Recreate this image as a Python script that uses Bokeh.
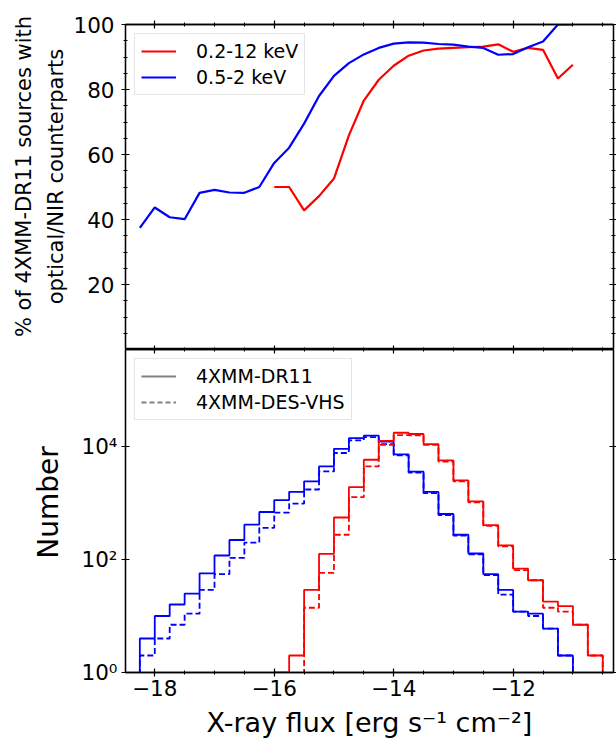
import math
from bokeh.plotting import figure
from bokeh.layouts import row, column
from bokeh.models import (Range1d, FixedTicker, LinearAxis, LogAxis, Label,
                          Legend, LegendItem)
from bokeh.embed import file_html
from bokeh.resources import INLINE

# ---------------- data ----------------
# top panel: fraction of sources with counterparts
frac_flux_blue = [-18.25, -18.0, -17.75, -17.5, -17.25, -17.0, -16.75, -16.5, -16.25,
                  -16.0, -15.75, -15.5, -15.25, -15.0, -14.75, -14.5, -14.25, -14.0,
                  -13.75, -13.5, -13.25, -13.0, -12.75, -12.5, -12.25, -12.0, -11.75,
                  -11.5, -11.25, -11.0]
frac_blue = [37.4, 43.7, 40.7, 40.1, 48.2, 49.1, 48.3, 48.2, 50.0,
             57.4, 62.1, 69.5, 78.0, 84.2, 88.1, 90.8, 92.8, 94.1,
             94.5, 94.4, 94.0, 93.8, 93.2, 92.8, 90.7, 90.9, 93.0,
             94.8, 100.0, 100.0]
frac_flux_red = [-16.0, -15.75, -15.5, -15.25, -15.0, -14.75, -14.5, -14.25, -14.0,
                 -13.75, -13.5, -13.25, -13.0, -12.75, -12.5, -12.25, -12.0, -11.75,
                 -11.5, -11.25, -11.0]
frac_red = [50.0, 50.0, 42.8, 47.2, 52.6, 65.9, 76.6, 83.0, 87.3,
            90.4, 92.0, 92.6, 92.8, 93.0, 93.2, 93.9, 91.6, 92.8,
            92.2, 83.4, 87.6]

# bottom panel: histograms (bin width 0.25 dex)
edges_blue = [-18.25, -18.0, -17.75, -17.5, -17.25, -17.0, -16.75, -16.5, -16.25,
              -16.0, -15.75, -15.5, -15.25, -15.0, -14.75, -14.5, -14.25, -14.0,
              -13.75, -13.5, -13.25, -13.0, -12.75, -12.5, -12.25, -12.0, -11.75,
              -11.5, -11.25, -11.0]
counts_blue_dr11 = [4, 10, 16, 25, 57, 118, 222, 415, 695,
                    1130, 1585, 2430, 4460, 9150, 14100, 15700, 12200,
                    7300, 3600, 1575, 640, 275, 128, 55, 29,
                    12, 11, 6, 2]
counts_blue_desvhs = [2, 4, 7, 11, 29, 55, 107, 200, 365,
                      680, 975, 1740, 3630, 7700, 12900, 14700, 11100,
                      7000, 3450, 1500, 615, 265, 124, 53, 24,
                      12, 10, 6, 2]
edges_red_dr11 = [-16.0, -15.75, -15.5, -15.25, -15.0, -14.75, -14.5, -14.25, -14.0,
                  -13.75, -13.5, -13.25, -13.0, -12.75, -12.5, -12.25, -12.0, -11.75,
                  -11.5, -11.25, -11.0, -10.75, -10.5]
counts_red_dr11 = [1, 2, 29, 126, 555, 1910, 5850, 12600, 17600,
                   16700, 11100, 5680, 2530, 1070, 408, 178, 69, 43,
                   18, 15, 7, 2]
edges_red_desvhs = [-15.5, -15.25, -15.0, -14.75, -14.5, -14.25, -14.0,
                    -13.75, -13.5, -13.25, -13.0, -12.75, -12.5, -12.25, -12.0, -11.75,
                    -11.5, -11.25, -11.0, -10.75, -10.5]
counts_red_desvhs = [14, 58, 275, 1270, 4460, 10700, 16000,
                     15800, 10700, 5400, 2430, 1030, 395, 172, 65, 43,
                     14, 12, 7, 2]

x_major = [-18, -16, -14, -12]
x_labels = {-18: "−18", -16: "−16", -14: "−14", -12: "−12"}
x_minor = [-17.5, -17, -16.5, -15.5, -15, -14.5, -13.5, -13, -12.5, -11.5, -11, -10.5]
pct_major = [20, 40, 60, 80, 100]
pct_minor = [5, 10, 15, 25, 30, 35, 45, 50, 55, 65, 70, 75, 85, 90, 95]
num_major = [1, 100, 10000]
num_labels = {1: "10⁰", 100: "10²", 10000: "10⁴"}

FONT = "DejaVu Sans"
TICK_FS = "21.5px"


def style_axis(ax, t_in, t_out, m_in, m_out, labels=False, standoff=6):
    ax.axis_line_color = "black"
    ax.axis_line_width = 1.3
    ax.major_tick_line_color = "black"
    ax.minor_tick_line_color = "black"
    ax.major_tick_line_width = 1.2
    ax.minor_tick_line_width = 1.0
    ax.major_tick_in = t_in
    ax.major_tick_out = t_out
    ax.minor_tick_in = m_in
    ax.minor_tick_out = m_out
    if labels:
        ax.major_label_text_font = FONT
        ax.major_label_text_font_size = TICK_FS
        ax.major_label_text_color = "black"
        ax.major_label_standoff = standoff
    else:
        ax.major_label_text_color = None
        ax.major_label_text_font_size = "0px"
        ax.major_label_standoff = 0


def step_xy(edges, counts, floor=0.3):
    xs = [edges[0]] + list(edges)
    ys = [floor] + list(counts) + [floor]
    return xs, ys


xr = Range1d(-18.49, -10.32)

# ---------------- top panel ----------------
top = figure(width=546, height=349, x_range=xr, y_range=Range1d(0, 100),
             x_axis_location=None, y_axis_location=None,
             min_border_left=53, min_border_right=3, min_border_top=24, min_border_bottom=0,
             toolbar_location=None, output_backend="svg")
top.outline_line_color = "black"
top.outline_line_width = 1.3
top.grid.visible = False

ax = LinearAxis(ticker=FixedTicker(ticks=pct_major, minor_ticks=pct_minor))
style_axis(ax, 4, 4, 2, 2, labels=True, standoff=7)
top.add_layout(ax, "left")
ax = LinearAxis(ticker=FixedTicker(ticks=pct_major, minor_ticks=pct_minor))
style_axis(ax, 4, 3, 2, 2)
top.add_layout(ax, "right")
ax = LinearAxis(ticker=FixedTicker(ticks=x_major, minor_ticks=x_minor))
style_axis(ax, 4, 4, 2, 2)
top.add_layout(ax, "above")
ax = LinearAxis(ticker=FixedTicker(ticks=x_major, minor_ticks=x_minor))
style_axis(ax, 4, 0, 2, 0)
top.add_layout(ax, "below")

r_red = top.line(frac_flux_red, frac_red, line_color="#ff0000", line_width=2.2)
r_blue = top.line(frac_flux_blue, frac_blue, line_color="#0000ff", line_width=2.2)

leg1 = Legend(items=[LegendItem(label="0.2-12 keV", renderers=[r_red]),
                     LegendItem(label="0.5-2 keV", renderers=[r_blue])],
              location="top_left")

# ---------------- bottom panel ----------------
bot = figure(width=546, height=391, x_range=xr, y_range=Range1d(1, 10 ** (326 / 57)),
             y_axis_type="log", x_axis_location=None, y_axis_location=None,
             min_border_left=53, min_border_right=3, min_border_top=0, min_border_bottom=65,
             toolbar_location=None, output_backend="svg")
bot.outline_line_color = "black"
bot.outline_line_width = 1.3
bot.grid.visible = False

ax = LogAxis(ticker=FixedTicker(ticks=num_major, minor_ticks=[]),
             major_label_overrides=num_labels)
style_axis(ax, 4, 4, 0, 0, labels=True, standoff=4)
bot.add_layout(ax, "left")
ax = LogAxis(ticker=FixedTicker(ticks=num_major, minor_ticks=[]))
style_axis(ax, 4, 3, 0, 0)
bot.add_layout(ax, "right")
ax = LinearAxis(ticker=FixedTicker(ticks=x_major, minor_ticks=x_minor))
style_axis(ax, 4, 0, 2, 0)
bot.add_layout(ax, "above")
ax = LinearAxis(ticker=FixedTicker(ticks=x_major, minor_ticks=x_minor),
                major_label_overrides=x_labels,
                axis_label="X-ray flux [erg s⁻¹ cm⁻²]")
style_axis(ax, 4, 4, 2, 2, labels=True, standoff=3)
ax.axis_label_text_font = FONT
ax.axis_label_text_font_size = "27px"
ax.axis_label_text_font_style = "normal"
ax.axis_label_text_color = "black"
ax.axis_label_standoff = 8
bot.add_layout(ax, "below")

HW = 1.8
xs, ys = step_xy(edges_blue, counts_blue_dr11)
bot.step(xs, ys, mode="after", line_color="#0000ff", line_width=HW)
xs, ys = step_xy(edges_blue, counts_blue_desvhs)
bot.step(xs, ys, mode="after", line_color="#0000ff", line_width=HW, line_dash="6 3")
xs, ys = step_xy(edges_red_dr11, counts_red_dr11)
bot.step(xs, ys, mode="after", line_color="#ff0000", line_width=HW)
xs, ys = step_xy(edges_red_desvhs, counts_red_desvhs)
bot.step(xs, ys, mode="after", line_color="#ff0000", line_width=HW, line_dash="6 3")

# legend proxies (single point -> nothing visible in the frame)
p_solid = bot.line(x=[edges_blue[0]], y=[counts_blue_dr11[0]], line_color="grey", line_width=2)
p_dash = bot.line(x=[edges_blue[0]], y=[counts_blue_dr11[0]], line_color="grey", line_width=2,
                  line_dash="5 3")
leg2 = Legend(items=[LegendItem(label="4XMM-DR11", renderers=[p_solid]),
                     LegendItem(label="4XMM-DES-VHS", renderers=[p_dash])],
              location="top_left")

for lg, p in [(leg1, top), (leg2, bot)]:
    lg.margin = 9
    lg.padding = 6
    lg.spacing = 4
    lg.glyph_width = 35
    lg.glyph_height = 20
    lg.label_standoff = 20
    lg.label_text_font = FONT
    lg.label_text_font_size = "19px"
    lg.label_text_color = "black"
    lg.border_line_color = "#cccccc"
    lg.border_line_width = 1
    lg.background_fill_alpha = 0.8
    p.add_layout(lg)

# ---------------- y-axis titles ----------------
lab = figure(width=70, height=740, x_range=Range1d(0, 1), y_range=Range1d(0, 1),
             x_axis_location=None, y_axis_location=None, min_border=0,
             toolbar_location=None, output_backend="svg")
lab.outline_line_color = None
lab.grid.visible = False

for txt, x, y, fs in [("% of 4XMM-DR11 sources with", 23, 564, "21px"),
                      ("optical/NIR counterparts", 55, 564, "21px"),
                      ("Number", 48, 238, "28px")]:
    lab.add_layout(Label(x=x, y=y, x_units="screen", y_units="screen", text=txt,
                         angle=math.pi / 2, text_align="center", text_baseline="middle",
                         text_font=FONT, text_font_size=fs, text_color="black"))

layout = row(lab, column(top, bot))
open("out.html", "w").write(file_html(layout, INLINE, "chart"))
